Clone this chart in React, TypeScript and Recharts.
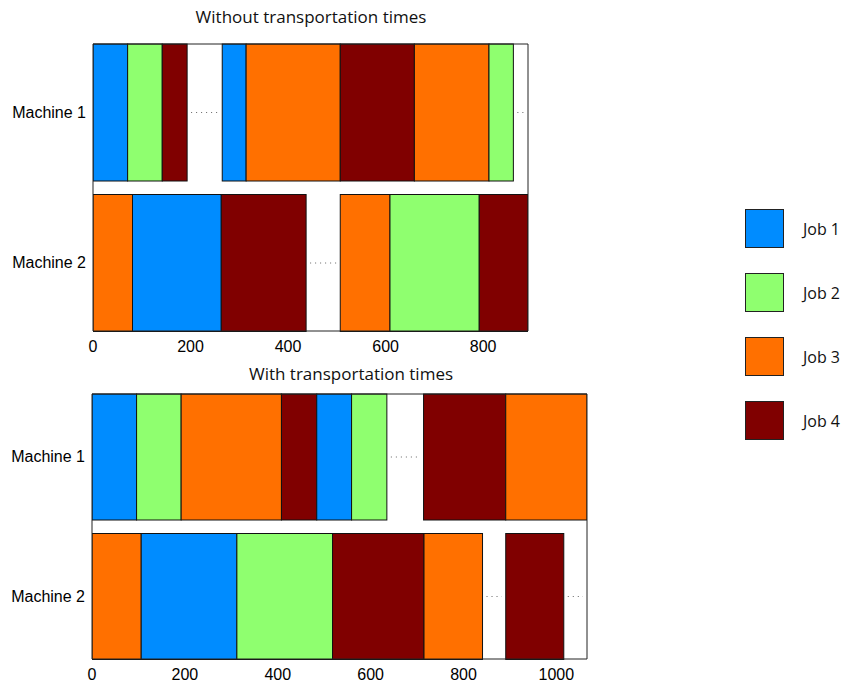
import { BarChart, Bar, XAxis, YAxis } from "recharts";

const machines = ["Machine 1", "Machine 2"];
const jobNames = ["Job 1", "Job 2", "Job 3", "Job 4"];
const jobColors = ["#008cff", "#8fff6f", "#ff7000", "#800000"];

// job number per segment (0 = idle), and the time at which each segment ends
const topM1Jobs = [1, 2, 4, 0, 1, 3, 4, 3, 2, 0];
const topM1Ends = [71, 142, 193, 265, 314, 507, 659, 812, 862, 892];
const topM2Jobs = [3, 1, 4, 0, 3, 2, 4];
const topM2Ends = [81, 263, 437, 507, 609, 792, 892];

const botM1Jobs = [1, 2, 3, 4, 1, 2, 0, 4, 3];
const botM1Ends = [96, 192, 408, 484, 559, 635, 714, 891, 1066];
const botM2Jobs = [3, 1, 2, 4, 3, 0, 4, 0];
const botM2Ends = [106, 312, 518, 715, 841, 891, 1016, 1066];

const topTicks = [0, 200, 400, 600, 800];
const botTicks = [0, 200, 400, 600, 800, 1000];

function buildRow(machine: string, jobs: number[], ends: number[]) {
  const row: Record<string, any> = { machine };
  ends.forEach((end, i) => {
    row[`s${i}`] = end - (i > 0 ? ends[i - 1] : 0);
    row[`j${i}`] = jobs[i];
  });
  return row;
}

const topData = [buildRow(machines[0], topM1Jobs, topM1Ends), buildRow(machines[1], topM2Jobs, topM2Ends)];
const botData = [buildRow(machines[0], botM1Jobs, botM1Ends), buildRow(machines[1], botM2Jobs, botM2Ends)];

const axisFont = { fontSize: 16, fill: "#000", fontFamily: "Liberation Sans, Arial, sans-serif" };
const frame = { stroke: "#222" };

function Segment(props: any) {
  const { x, y, width, height, job } = props;
  if (job === undefined || !width || width <= 0) return null;
  if (job === 0) {
    const cy = y + height / 2;
    return <line x1={x + 4} x2={x + width - 4} y1={cy} y2={cy} stroke="#666" strokeDasharray="1 4" />;
  }
  return <rect x={x} y={y} width={width} height={height} fill={jobColors[job - 1]} stroke="#111" strokeWidth={1} />;
}

function Gantt({ data, max, ticks, width, height, margin, yWidth }: any) {
  const n = Math.max(...data.map((r: any) => Object.keys(r).length)) / 2;
  const segs = Array.from({ length: Math.floor(n) }, (_, i) => i);
  return (
    <BarChart width={width} height={height} data={data} layout="vertical" margin={margin} barCategoryGap={7}>
      <XAxis type="number" domain={[0, max]} ticks={ticks} allowDataOverflow tick={axisFont} tickLine={false} tickSize={6} tickMargin={4} height={27} axisLine={frame} />
      <XAxis xAxisId="top" orientation="top" type="number" domain={[0, max]} tick={false} tickLine={false} height={1} axisLine={frame} />
      <YAxis type="category" dataKey="machine" width={yWidth} tick={axisFont} tickLine={false} tickSize={5} tickMargin={2} padding={{ top: -7, bottom: -7 }} axisLine={frame} />
      <YAxis yAxisId="right" orientation="right" type="category" dataKey="machine" width={1} tick={false} tickLine={false} axisLine={frame} />
      {segs.map((i) => (
        <Bar
          key={i}
          dataKey={`s${i}`}
          stackId="a"
          isAnimationActive={false}
          shape={(p: any) => <Segment {...p} job={p.payload ? p.payload[`j${i}`] : undefined} />}
        />
      ))}
    </BarChart>
  );
}

const titleStyle: any = {
  position: "absolute",
  textAlign: "center",
  fontFamily: "Open Sans, sans-serif",
  fontSize: 17,
  lineHeight: "20px",
  color: "#111",
  whiteSpace: "nowrap",
};

export default function App() {
  return (
    <div style={{ position: "absolute", left: 0, top: 0, width: 848, height: 686, background: "#fff" }}>
      <div style={{ ...titleStyle, left: 111, width: 400, top: 7 }}>Without transportation times</div>
      <div style={{ position: "absolute", left: 0, top: 0 }}>
        <Gantt data={topData} max={892} ticks={topTicks} width={560} height={358} margin={{ top: 43, right: 31, bottom: 0, left: 0 }} yWidth={93} />
      </div>
      <div style={{ ...titleStyle, left: 151, width: 400, top: 364 }}>With transportation times</div>
      <div style={{ position: "absolute", left: 0, top: 360 }}>
        <Gantt data={botData} max={1066} ticks={botTicks} width={600} height={326} margin={{ top: 33, right: 12, bottom: 0, left: 0 }} yWidth={92} />
      </div>
      <div style={{ position: "absolute", left: 745, top: 209 }}>
        {jobNames.map((name, i) => (
          <div key={name} style={{ display: "flex", alignItems: "center", height: 39, marginBottom: 25 }}>
            <div style={{ width: 37, height: 37, background: jobColors[i], border: "1px solid #222" }} />
            <span style={{ marginLeft: 19, fontFamily: "Open Sans, sans-serif", fontSize: 16, color: "#111" }}>{name}</span>
          </div>
        ))}
      </div>
    </div>
  );
}
